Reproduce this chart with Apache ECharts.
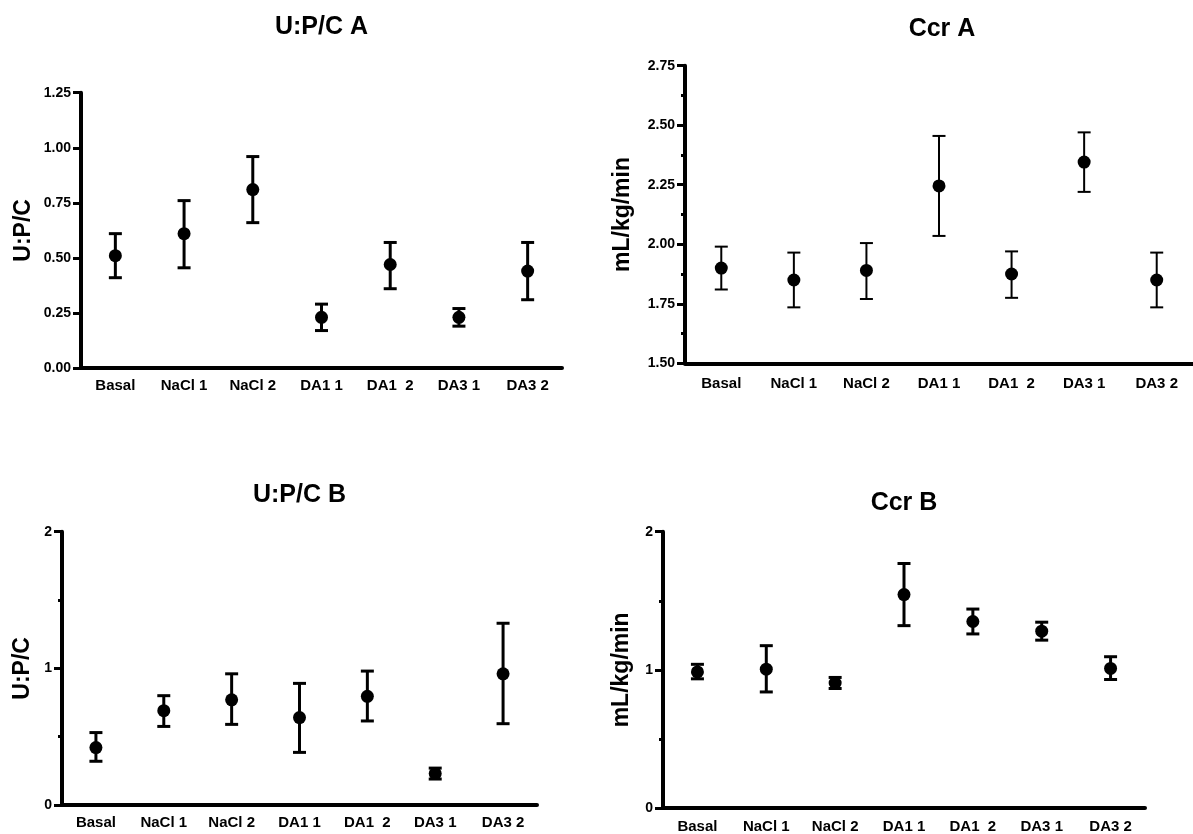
<!DOCTYPE html>
<html>
<head>
<meta charset="utf-8">
<script src="https://cdn.jsdelivr.net/npm/echarts@6/dist/echarts.min.js"></script>
<style>
html, body { margin: 0; padding: 0; background: #fff; }
#main { width: 1193px; height: 834px; }
</style>
</head>
<body>
<div id="main"></div>
<script>
// groups on the x axis
var categories = ['Basal', 'NaCl 1', 'NaCl 2', 'DA1 1', 'DA1  2', 'DA3 1', 'DA3 2'];

// U:P/C A
var upcA_mean  = [0.51, 0.61, 0.81, 0.23, 0.47, 0.23, 0.44];
var upcA_upper = [0.61, 0.76, 0.96, 0.29, 0.57, 0.27, 0.57];
var upcA_lower = [0.41, 0.455, 0.66, 0.17, 0.36, 0.19, 0.31];

// Ccr A
var ccrA_mean  = [1.90, 1.85, 1.89, 2.245, 1.875, 2.345, 1.85];
var ccrA_upper = [1.99, 1.965, 2.005, 2.455, 1.97, 2.47, 1.965];
var ccrA_lower = [1.81, 1.735, 1.77, 2.035, 1.775, 2.22, 1.735];

// U:P/C B
var upcB_mean  = [0.42, 0.69, 0.77, 0.64, 0.795, 0.23, 0.96];
var upcB_upper = [0.53, 0.80, 0.96, 0.89, 0.98, 0.27, 1.33];
var upcB_lower = [0.32, 0.575, 0.59, 0.385, 0.615, 0.19, 0.595];

// Ccr B
var ccrB_mean  = [0.985, 1.005, 0.905, 1.545, 1.35, 1.28, 1.01];
var ccrB_upper = [1.04, 1.175, 0.945, 1.77, 1.44, 1.345, 1.095];
var ccrB_lower = [0.935, 0.84, 0.865, 1.32, 1.26, 1.215, 0.93];

// y axis ranges / ticks  [min, max, interval]
var upcA_ticks = [0, 1.25, 0.25];
var ccrA_ticks = [1.5, 2.75, 0.25];
var upcB_ticks = [0, 2, 1];
var ccrB_ticks = [0, 2, 1];

var FONT = 'Liberation Sans, Arial, sans-serif';

var panels = [
    { title: 'U:P/C A', yName: 'U:P/C', mean: upcA_mean, upper: upcA_upper, lower: upcA_lower, ticks: upcA_ticks,
      grid: { left: 81, top: 92.7, width: 481, height: 275.3 }, titleY: 27, nameGap: 46, minor: false, barW: 3, dec: 2, labelMargin: 10 },
    { title: 'Ccr A', yName: 'mL/kg/min', mean: ccrA_mean, upper: ccrA_upper, lower: ccrA_lower, ticks: ccrA_ticks,
      grid: { left: 685, top: 65.7, width: 514, height: 297.6 }, titleY: 29, nameGap: 51, minor: true, barW: 2, dec: 2, labelMargin: 13 },
    { title: 'U:P/C B', yName: 'U:P/C', mean: upcB_mean, upper: upcB_upper, lower: upcB_lower, ticks: upcB_ticks,
      grid: { left: 62, top: 531.7, width: 475, height: 273.3 }, titleY: 495, nameGap: 28, minor: true, barW: 3, dec: 0, labelMargin: 10 },
    { title: 'Ccr B', yName: 'mL/kg/min', mean: ccrB_mean, upper: ccrB_upper, lower: ccrB_lower, ticks: ccrB_ticks,
      grid: { left: 663, top: 531.7, width: 482, height: 276.6 }, titleY: 503, nameGap: 30, minor: true, barW: 3, dec: 0, labelMargin: 11 }
];

var myChart = echarts.init(document.getElementById('main'));

var option = { animation: false, grid: [], xAxis: [], yAxis: [], series: [], graphic: [] };

panels.forEach(function (p, i) {
    option.grid.push(p.grid);
    option.xAxis.push({
        type: 'category', gridIndex: i, data: categories, boundaryGap: true,
        axisLine: { lineStyle: { color: '#000', width: 4 } },
        axisTick: { show: false },
        axisLabel: { color: '#000', fontFamily: FONT, fontWeight: 'bold', fontSize: 15, margin: p.labelMargin, interval: 0 },
        splitLine: { show: false }
    });
    option.yAxis.push({
        type: 'value', gridIndex: i, min: p.ticks[0], max: p.ticks[1], interval: p.ticks[2],
        name: p.yName, nameLocation: 'middle', nameGap: p.nameGap,
        nameTextStyle: { color: '#000', fontFamily: FONT, fontWeight: 'bold', fontSize: 23 },
        axisLine: { show: true, lineStyle: { color: '#000', width: 4 } },
        axisTick: { show: true, length: 8, lineStyle: { color: '#000', width: 3 } },
        minorTick: { show: p.minor, splitNumber: 2, length: 4, lineStyle: { color: '#000', width: 3 } },
        axisLabel: {
            color: '#000', fontFamily: FONT, fontWeight: 'bold', fontSize: 14, margin: 10,
            formatter: (function (d) { return function (v) { return v.toFixed(d); }; })(p.dec)
        },
        splitLine: { show: false }
    });

    var errData = categories.map(function (c, k) { return [k, p.lower[k], p.upper[k]]; });
    option.series.push({
        type: 'custom', xAxisIndex: i, yAxisIndex: i, data: errData,
        renderItem: function (params, api) {
            var x = api.value(0);
            var lo = api.coord([x, api.value(1)]);
            var hi = api.coord([x, api.value(2)]);
            var hw = 6.5;
            var st = { stroke: '#000', lineWidth: p.barW };
            return {
                type: 'group',
                children: [
                    { type: 'line', shape: { x1: hi[0], y1: hi[1], x2: lo[0], y2: lo[1] }, style: st },
                    { type: 'line', shape: { x1: hi[0] - hw, y1: hi[1], x2: hi[0] + hw, y2: hi[1] }, style: st },
                    { type: 'line', shape: { x1: lo[0] - hw, y1: lo[1], x2: lo[0] + hw, y2: lo[1] }, style: st }
                ]
            };
        },
        z: 2
    });
    option.series.push({
        type: 'scatter', xAxisIndex: i, yAxisIndex: i, data: p.mean,
        symbol: 'circle', symbolSize: 13, itemStyle: { color: '#000', opacity: 1 }, z: 3
    });

    option.graphic.push({
        type: 'text', x: p.grid.left + p.grid.width / 2, y: p.titleY,
        style: { text: p.title, fill: '#000', font: 'bold 25px ' + FONT, align: 'center', verticalAlign: 'middle' }
    });
});

myChart.setOption(option);
window.onresize = myChart.resize;
</script>
</body>
</html>
